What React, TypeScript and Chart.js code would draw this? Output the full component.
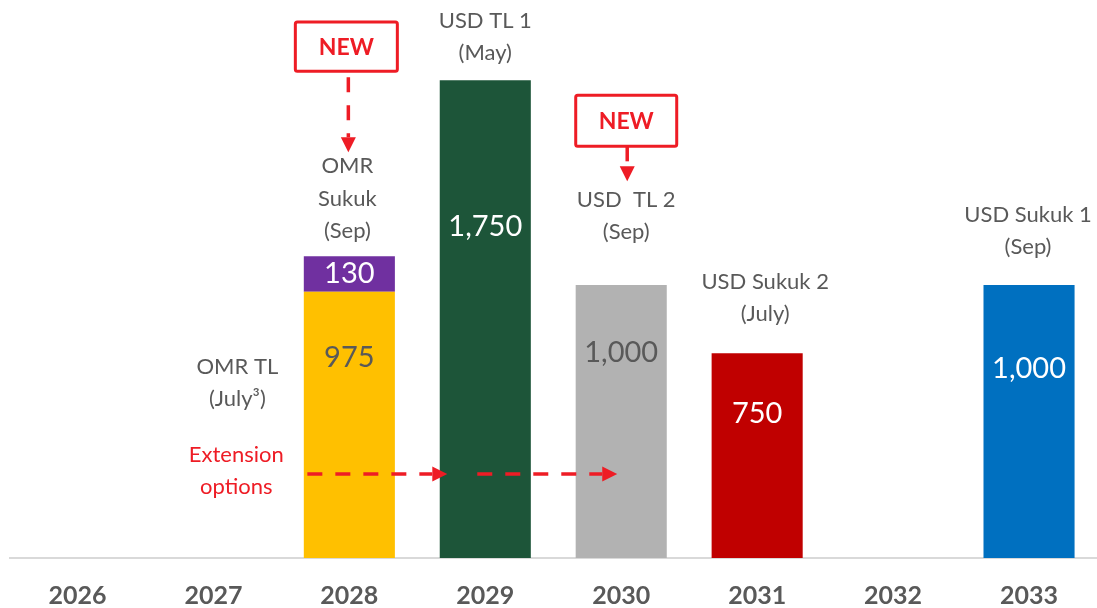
import React, { useEffect, useRef } from 'react';
import { Chart, registerables } from 'chart.js';

Chart.register(...registerables);

// ---------- data ----------
const years = ['2026', '2027', '2028', '2029', '2030', '2031', '2032', '2033'];
const trancheNames = ['OMR TL', 'OMR Sukuk', 'USD TL 1', 'USD TL 2', 'USD Sukuk 2', 'USD Sukuk 1'];
const omrTL = [null, null, 975, null, null, null, null, null];
const omrSukuk = [null, null, 130, null, null, null, null, null];
const usdTL1 = [null, null, null, 1750, null, null, null, null];
const usdTL2 = [null, null, null, null, 1000, null, null, null];
const usdSukuk2 = [null, null, null, null, null, 750, null, null];
const usdSukuk1 = [null, null, null, null, null, null, null, 1000];

const calloutOmrSukuk = ['OMR', 'Sukuk', '(Sep)'];
const calloutUsdTL1 = ['USD TL 1', '(May)'];
const calloutUsdTL2 = ['USD  TL 2', '(Sep)'];
const calloutUsdSukuk2 = ['USD Sukuk 2', '(July)'];
const calloutUsdSukuk1 = ['USD Sukuk 1', '(Sep)'];
const calloutOmrTL = ['OMR TL', '(July\u00B3)'];
const extensionText = ['Extension', 'options'];
const newText = 'NEW';

// ---------- styles ----------
const FONT = 'Lato, "Open Sans", sans-serif';
const GREY = '#595959';
const RED = '#EE1C25';
const trancheColors = ['#FFC000', '#7030A0', '#1D5539', '#B2B2B2', '#C00000', '#0070C0'];
const valueColors = [GREY, '#FFFFFF', '#FFFFFF', GREY, '#FFFFFF', '#FFFFFF'];
const valueOffsets = [66, null, 146, 68, 60, 84]; // px below bar top, null = centred
const LINE_H = 32.5;

function drawLines(ctx, lines, x, yFirst, color, font) {
  ctx.save();
  ctx.font = font;
  ctx.fillStyle = color;
  ctx.textAlign = 'center';
  ctx.textBaseline = 'middle';
  lines.forEach((l, k) => ctx.fillText(l, x, yFirst + k * LINE_H));
  ctx.restore();
}

function dashedArrow(ctx, x1, y1, x2, y2) {
  const ang = Math.atan2(y2 - y1, x2 - x1);
  const head = 15;
  const bx = x2 - Math.cos(ang) * head;
  const by = y2 - Math.sin(ang) * head;
  ctx.save();
  ctx.strokeStyle = RED;
  ctx.fillStyle = RED;
  ctx.lineWidth = 3.5;
  ctx.setLineDash([15, 13]);
  ctx.beginPath();
  ctx.moveTo(x1, y1);
  ctx.lineTo(bx, by);
  ctx.stroke();
  ctx.setLineDash([]);
  const px = -Math.sin(ang) * 7.5;
  const py = Math.cos(ang) * 7.5;
  ctx.beginPath();
  ctx.moveTo(x2, y2);
  ctx.lineTo(bx + px, by + py);
  ctx.lineTo(bx - px, by - py);
  ctx.closePath();
  ctx.fill();
  ctx.restore();
}

function newBox(ctx, cx, top, bottom, w) {
  ctx.save();
  ctx.fillStyle = '#FFFFFF';
  ctx.strokeStyle = RED;
  ctx.lineWidth = 3;
  ctx.beginPath();
  ctx.roundRect(cx - w / 2, top, w, bottom - top, 2);
  ctx.fill();
  ctx.stroke();
  ctx.font = `bold 23px ${FONT}`;
  ctx.fillStyle = RED;
  ctx.textAlign = 'center';
  ctx.textBaseline = 'middle';
  ctx.fillText(newText, cx, (top + bottom) / 2 + 1);
  ctx.restore();
}

const annotationPlugin = {
  id: 'annotations',
  afterDatasetsDraw(chart) {
    const ctx = chart.ctx;
    const xs = chart.scales.x;
    const ys = chart.scales.y;
    const cx = (i) => xs.getPixelForValue(i);
    const py = (v) => ys.getPixelForValue(v);
    const stackTop = (i) => {
      let t = Infinity;
      chart.data.datasets.forEach((ds, d) => {
        if (ds.data[i] != null) t = Math.min(t, chart.getDatasetMeta(d).data[i].y);
      });
      return t;
    };

    // value labels
    chart.data.datasets.forEach((ds, d) => {
      const meta = chart.getDatasetMeta(d);
      ds.data.forEach((v, i) => {
        if (v == null) return;
        const el = meta.data[i];
        const off = valueOffsets[d];
        const y = off == null ? (el.y + el.base) / 2 : el.y + off;
        ctx.save();
        ctx.font = `29px ${FONT}`;
        ctx.fillStyle = valueColors[d];
        ctx.textAlign = 'center';
        ctx.textBaseline = 'middle';
        ctx.fillText(Number(v).toLocaleString('en-US'), el.x, y);
        ctx.restore();
      });
    });

    const txtFont = `22px ${FONT}`;
    const above = (lines, i, gap, dx) => {
      const last = stackTop(i) - gap;
      drawLines(ctx, lines, cx(i) + dx, last - (lines.length - 1) * LINE_H, GREY, txtFont);
    };
    above(calloutOmrSukuk, 2, 25, -2);
    above(calloutUsdTL1, 3, 27, 0);
    above(calloutUsdTL2, 4, 53, 5);
    above(calloutUsdSukuk2, 5, 39, 8);
    above(calloutUsdSukuk1, 7, 38, -1);

    drawLines(ctx, calloutOmrTL, cx(2) - 112, py(701), GREY, txtFont);
    drawLines(ctx, extensionText, cx(2) - 113, py(378), RED, txtFont);

    // extension arrows
    const ay = py(308);
    dashedArrow(ctx, cx(2) - 42, ay, cx(3) - 38, ay);
    dashedArrow(ctx, cx(3) - 8, ay, cx(4) - 4, ay);

    // NEW boxes with arrows
    newBox(ctx, cx(2) - 3, py(1963), py(1783), 102);
    dashedArrow(ctx, cx(2) - 1, py(1783) + 6, cx(2) - 1, py(1486));
    newBox(ctx, cx(4) + 5, py(1695), py(1508), 101);
    dashedArrow(ctx, cx(4) + 6, py(1508), cx(4) + 6, py(1380));
  },
};

export default function App() {
  const ref = useRef(null);
  useEffect(() => {
    const series = [omrTL, omrSukuk, usdTL1, usdTL2, usdSukuk2, usdSukuk1];
    const chart = new Chart(ref.current, {
      type: 'bar',
      data: {
        labels: years,
        datasets: series.map((s, d) => ({
          label: trancheNames[d],
          data: s,
          backgroundColor: trancheColors[d],
          borderWidth: 0,
          categoryPercentage: 1,
          barPercentage: 0.67,
        })),
      },
      options: {
        responsive: false,
        animation: false,
        layout: { padding: { left: 9.5, right: 0, top: 12, bottom: -26 } },
        plugins: { legend: { display: false }, tooltip: { enabled: false } },
        scales: {
          x: {
            stacked: true,
            grid: { display: false, drawTicks: false },
            border: { display: true, color: '#D9D9D9', width: 2 },
            ticks: {
              color: GREY,
              padding: 23,
              font: { family: FONT, size: 25, weight: 'bold', lineHeight: 1.2 },
            },
          },
          y: {
            stacked: true,
            display: false,
            min: 0,
            max: 2000,
          },
        },
      },
      plugins: [annotationPlugin],
    });
    return () => chart.destroy();
  }, []);
  return (
    <div style={{ position: 'absolute', left: 0, top: 0, width: 1097, height: 608, overflow: 'hidden' }}>
      <canvas ref={ref} width={1097} height={608} style={{ width: 1097, height: 608 }} />
    </div>
  );
}
